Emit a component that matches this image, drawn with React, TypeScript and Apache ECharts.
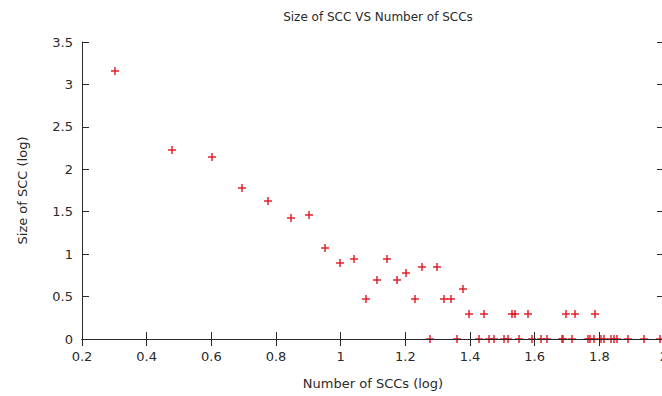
import React, { useEffect, useRef } from "react";
import * as echarts from "echarts";

const chartTitle = "Size of SCC VS Number of SCCs";
const xAxisName = "Number of SCCs (log)";
const yAxisName = "Size of SCC (log)";

// log10(number of SCCs) for each point
const sccCountLog = [
  0.301, 0.479, 0.602, 0.694, 0.775, 0.846, 0.903, 0.951, 0.998, 1.041,
  1.078, 1.113, 1.143, 1.173, 1.203, 1.23, 1.253, 1.299, 1.321, 1.342,
  1.378, 1.397, 1.442, 1.531, 1.538, 1.579, 1.698, 1.724, 1.788,
  1.277, 1.359, 1.429, 1.46, 1.473, 1.504, 1.516, 1.553, 1.592, 1.619,
  1.639, 1.683, 1.689, 1.714, 1.764, 1.77, 1.782, 1.806, 1.813, 1.837,
  1.846, 1.854, 1.888, 1.939, 1.989,
];
// log10(size of SCC) for each point
const sccSizeLog = [
  3.16, 2.23, 2.145, 1.78, 1.63, 1.425, 1.465, 1.075, 0.9, 0.945,
  0.47, 0.695, 0.945, 0.695, 0.775, 0.47, 0.845, 0.845, 0.47, 0.47,
  0.595, 0.295, 0.295, 0.295, 0.295, 0.295, 0.295, 0.295, 0.295,
  0, 0, 0, 0, 0, 0, 0, 0, 0, 0,
  0, 0, 0, 0, 0, 0, 0, 0, 0, 0,
  0, 0, 0, 0, 0,
];

const xMin = 0.2, xMax = 2, xStep = 0.2;
const yMin = 0, yMax = 3.5, yStep = 0.5;

const RED = "#e0141f";
const AXIS = "#2a2a2a";
const FONT = "DejaVu Sans";

export default function App() {
  const ref = useRef<HTMLDivElement>(null);
  useEffect(() => {
    if (!ref.current) return;
    const chart = echarts.init(ref.current, null, { renderer: "svg" });
    const data = sccCountLog.map((x, i) => [x, sccSizeLog[i]]);
    const tick = { show: true, inside: true, length: 7, lineStyle: { color: AXIS, width: 1 } };
    const line = { show: true, lineStyle: { color: AXIS, width: 1 } };
    chart.setOption({
      animation: false,
      backgroundColor: "#fff",
      title: {
        text: chartTitle,
        left: 373,
        top: 6,
        textAlign: "center",
        textStyle: { fontFamily: FONT, fontSize: 12, fontWeight: "normal", color: AXIS },
      },
      grid: { left: 82, top: 42, right: -2, bottom: 57, containLabel: false, outerBoundsMode: "none" },
      xAxis: [
        {
          type: "value", min: xMin, max: xMax, interval: xStep, position: "bottom",
          name: xAxisName, nameLocation: "middle", nameGap: 38,
          nameTextStyle: { fontFamily: FONT, fontSize: 13, color: AXIS },
          axisLine: line, axisTick: tick, splitLine: { show: false },
          axisLabel: { fontFamily: FONT, fontSize: 13, color: AXIS, margin: 11, showMaxLabel: true },
          z: 10,
        },
        {
          type: "value", min: xMin, max: xMax, interval: xStep, position: "top",
          axisLine: line, axisTick: tick, splitLine: { show: false }, axisLabel: { show: false },
        },
      ],
      yAxis: [
        {
          type: "value", min: yMin, max: yMax, interval: yStep, position: "left",
          name: yAxisName, nameLocation: "middle", nameGap: 53,
          nameTextStyle: { fontFamily: FONT, fontSize: 13, color: AXIS },
          axisLine: line, axisTick: tick, splitLine: { show: false },
          axisLabel: { fontFamily: FONT, fontSize: 13, color: AXIS, margin: 9 },
        },
        {
          type: "value", min: yMin, max: yMax, interval: yStep, position: "right",
          axisLine: line, axisTick: tick, splitLine: { show: false }, axisLabel: { show: false },
        },
      ],
      series: [
        {
          type: "custom",
          data,
          z: 2,
          itemStyle: { color: RED },
          renderItem: (params: any, api: any) => {
            const p = api.coord([api.value(0), api.value(1)]);
            const cx = Math.round(p[0]);
            const cy = Math.round(p[1]);
            const h = 4;
            return {
              type: "group",
              children: [
                {
                  type: "line",
                  shape: { x1: cx - h, y1: cy, x2: cx + h, y2: cy },
                  style: { stroke: RED, fill: null, lineWidth: 1.4 },
                },
                {
                  type: "line",
                  shape: { x1: cx, y1: cy - h, x2: cx, y2: cy + h },
                  style: { stroke: RED, fill: null, lineWidth: 1.4 },
                },
              ],
            };
          },
        },
      ],
    });
    return () => chart.dispose();
  }, []);
  return (
    <div
      ref={ref}
      style={{ position: "fixed", left: 0, top: 0, width: 662, height: 396 }}
    />
  );
}
